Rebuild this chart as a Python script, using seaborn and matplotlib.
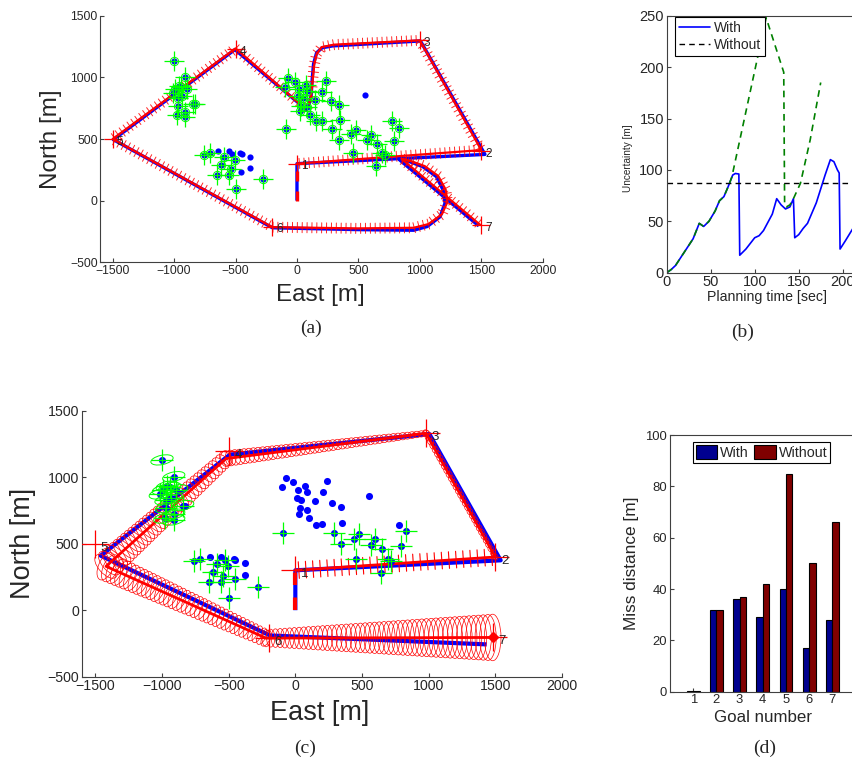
import numpy as np
import pandas as pd
import matplotlib
matplotlib.use("Agg")
import matplotlib.pyplot as plt
import matplotlib.patheffects as pe
from matplotlib.patches import Ellipse
import seaborn as sns

sns.set_style("ticks")
plt.rcParams['font.family'] = ['Liberation Sans', 'DejaVu Sans']
plt.rcParams['xtick.direction'] = 'in'
plt.rcParams['ytick.direction'] = 'in'

# ---- landmarks (true positions) ----
lm_x = [-1000, -912, -961, -990, -941, -892, -970, -967, -912, -979, -912, -845, -828, -1013, -932,
        -73, -99, -15, 20, 70, 84, 46, 12, 35, 26, 84, 102, 148, 206, 235, 273, 346, 157, 200, 288,
        351, 340, 439, 479, 555, 601, 566, 648, 642, 456, 694, 717, 775, 828, 790, -90,
        -712, -642, -555, -590, -526, -462, -450, -380, -505, -619, -540, -648, -555, -456, -380, -497, -279, -758]
lm_y = [1130, 1004, 933, 906, 923, 906, 830, 771, 722, 692, 678, 787, 787, 874, 847,
        993, 923, 966, 906, 934, 887, 830, 847, 771, 725, 757, 692, 820, 885, 969, 809, 779, 643, 649, 578,
        657, 494, 537, 570, 860, 532, 491, 461, 277, 385, 385, 372, 643, 592, 483, 581,
        385, 399, 399, 350, 377, 385, 380, 358, 331, 290, 258, 209, 209, 233, 263, 92, 176, 372]
seen_a = [1, 1, 1, 1, 1, 1, 1, 1, 1, 1, 1, 1, 1, 1, 1,
          1, 1, 1, 1, 1, 1, 1, 1, 1, 1, 1, 1, 1, 1, 1, 1, 1, 1, 1, 1,
          1, 1, 1, 1, 0, 1, 1, 1, 1, 1, 1, 1, 1, 1, 1, 1,
          1, 0, 0, 1, 0, 0, 0, 0, 1, 1, 1, 1, 1, 0, 0, 1, 1, 1]
seen_c = [1, 1, 1, 1, 1, 1, 1, 1, 1, 1, 1, 1, 0, 1, 1,
          0, 0, 0, 0, 0, 0, 0, 0, 0, 0, 0, 0, 0, 0, 0, 0, 0, 0, 0, 1,
          0, 1, 1, 1, 0, 1, 1, 1, 1, 1, 1, 1, 0, 1, 1, 1,
          1, 0, 0, 1, 1, 0, 0, 0, 1, 1, 1, 1, 1, 1, 0, 1, 1, 1]

# ---- panel (a): true (blue) and estimated (red) paths, goals ----
blue_a_x = [0, 0, 1530, 1005, 290, 205, 160, 135, 125, 115, 95, 75, -505, -1495, -200,
            500, 950, 1060, 1165, 1205, 1190, 1135, 1025, 920, 836, 1480]
blue_a_y = [0, 300, 375, 1295, 1255, 1240, 1200, 1110, 1000, 850, 775, 740, 1225, 495, -220,
            -235, -240, -210, -130, -20, 85, 195, 275, 315, 330, -205]
red_a_x = [0, 1500, 1000, 300, 200, 160, 140, 130, 115, 95, 75, -500, -1500, -200,
           490, 950, 1070, 1180, 1225, 1210, 1150, 1040, 930, 850, 1490]
red_a_y = [300, 410, 1300, 1265, 1245, 1190, 1100, 1000, 850, 775, 740, 1235, 500, -215,
           -225, -220, -190, -110, -10, 90, 200, 280, 320, 340, -195]
goal_a_x = [0, 1500, 1000, -500, -1500, -200, 1500]
goal_a_y = [300, 400, 1300, 1230, 500, -210, -200]

# ---- panel (c) ----
blue_c_x = [0, 0, 1540, 1005, -490, -1460, -190, 1435]
blue_c_y = [0, 300, 375, 1325, 1170, 410, -190, -257]
red_c_x = [0, 1500, 980, -520, -1420, -220, 1480]
red_c_y = [300, 400, 1330, 1140, 330, -210, -205]
band_c = [20, 40, 45, 120, 220, 130, 350]     # ellipse size across the path at each goal
along_c = [20, 45, 55, 80, 110, 60, 125]      # ellipse size along the path
goal_c_x = [0, 1500, 980, -500, -1500, -200, 1480]
goal_c_y = [300, 400, 1330, 1200, 500, -210, -205]

# ---- panel (b): uncertainty vs planning time ----
t_with = [0, 5, 10, 20, 30, 37, 42, 48, 55, 60, 65, 70, 75, 78, 82, 83, 90, 100, 105, 110, 120,
          125, 130, 135, 140, 144, 145.5, 150, 155, 160, 170, 180, 186, 190, 194, 196, 197, 203, 213, 220]
u_with = [0, 3, 7, 20, 33, 48, 45, 50, 60, 70, 74, 84, 95, 96.5, 96, 17, 23, 34, 36, 41, 57,
          72, 66, 62, 64, 72, 34, 37, 43, 48, 68, 95, 110, 108, 100, 97, 23, 31, 45, 58]
t_without = [0, 5, 10, 20, 30, 37, 42, 48, 55, 60, 65, 70, 74, 113, 133, 134, 136, 140, 144, 152, 163, 175]
u_without = [0, 3, 7, 20, 33, 48, 45, 50, 60, 70, 74, 84, 93, 248, 195, 66, 64, 66, 72, 87, 129, 185]
threshold = 87

# ---- panel (d): miss distance per goal ----
goals = [1, 2, 3, 4, 5, 6, 7]
miss_with = [0.4, 32, 36, 29, 40, 17, 28]
miss_without = [0.4, 32, 37, 42, 85, 50, 66]

W, H = 853, 764
fig = plt.figure(figsize=(W / 100, H / 100), dpi=100)
SPINE = '#404040'


def style_map_axes(ax, tick_size):
    ax.set_xlim(-1600, 2000)
    ax.set_ylim(-500, 1500)
    ax.set_xticks(range(-1500, 2001, 500))
    ax.set_yticks(range(-500, 1501, 500))
    for s in ['top', 'right']:
        ax.spines[s].set_visible(False)
    for s in ['left', 'bottom']:
        ax.spines[s].set_color(SPINE)
    ax.tick_params(labelsize=tick_size, length=3, pad=2, color=SPINE)
    ax.set_xticklabels([str(v).replace('-', '\u2212') for v in range(-1500, 2001, 500)])
    ax.set_yticklabels([str(v).replace('-', '\u2212') for v in range(-500, 1501, 500)])


def ellipse_chain(ax, xs, ys, band, along, step=35):
    for i in range(1, len(xs) - 1):
        x0, y0, x1, y1 = xs[i], ys[i], xs[i + 1], ys[i + 1]
        ang = np.degrees(np.arctan2(y1 - y0, x1 - x0))
        n = int(np.hypot(x1 - x0, y1 - y0) // step)
        for f in np.linspace(0, 1, n + 1):
            ax.add_patch(Ellipse((x0 + f * (x1 - x0), y0 + f * (y1 - y0)),
                                 along[i] + f * (along[i + 1] - along[i]),
                                 band[i] + f * (band[i + 1] - band[i]),
                                 angle=ang, fill=False, ec='red', lw=0.5, zorder=3))


# ================= (a) =================
ax = fig.add_axes([100.4 / W, 1 - 262.3 / H, 442.3 / W, 246.6 / H])
ticks = [pe.withTickedStroke(angle=90, spacing=3.5, length=1.05, linewidth=0.7, alpha=0.85),
         pe.TickedStroke(angle=-90, spacing=3.5, length=1.05, linewidth=0.7, alpha=0.85)]
ax.plot(blue_a_x, blue_a_y, color='blue', lw=2.4, solid_capstyle='butt', zorder=2)
ax.plot(blue_a_x[:2], blue_a_y[:2], color='red', lw=2.4, dashes=(3, 3), zorder=3)
ax.plot(red_a_x, red_a_y, color='red', lw=1.6, path_effects=ticks, zorder=3)
ax.plot(goal_a_x, goal_a_y, '+', color='red', ms=13, mew=0.9, ls='none', zorder=4)
for i, (gx, gy) in enumerate(zip(goal_a_x, goal_a_y)):
    ax.annotate(str(i + 1), (gx, gy), xytext=(3, -4), textcoords='offset points', fontsize=8.5, zorder=5)
sns.scatterplot(x=lm_x, y=lm_y, color='blue', s=20, linewidth=0, ax=ax, zorder=5)
sx = [x for x, s in zip(lm_x, seen_a) if s]
sy = [y for y, s in zip(lm_y, seen_a) if s]
ax.plot(sx, sy, '+', color='#00ff00', ms=14, mew=0.9, ls='none', zorder=6)
ax.plot(sx, sy, 'o', mfc='none', mec='#00ff00', ms=6, mew=0.7, ls='none', zorder=6)
style_map_axes(ax, 8.7)
ax.set_xlabel('East [m]', fontsize=17.5)
ax.set_ylabel('North [m]', fontsize=17.5)
ax.xaxis.set_label_coords(0.497, -0.087)
ax.yaxis.set_label_coords(-0.087, 0.5)

# ================= (c) =================
ax = fig.add_axes([82 / W, 1 - 676.7 / H, 480 / W, 266 / H])
ax.plot(blue_c_x, blue_c_y, color='blue', lw=3, solid_capstyle='butt', zorder=2)
ax.plot(blue_c_x[:2], blue_c_y[:2], color='red', lw=3, dashes=(3, 3), zorder=3)
ticks_c = [pe.withTickedStroke(angle=90, spacing=5, length=1.2, linewidth=0.8),
           pe.TickedStroke(angle=-90, spacing=5, length=1.2, linewidth=0.8)]
ax.plot(red_c_x[:2], red_c_y[:2], color='red', lw=2, path_effects=ticks_c, zorder=3)
ax.plot(red_c_x[1:], red_c_y[1:], color='red', lw=2, zorder=3)
ellipse_chain(ax, red_c_x, red_c_y, band_c, along_c)
ax.plot(red_c_x[-1:], red_c_y[-1:], 'D', color='red', ms=5, zorder=4)
ax.plot(goal_c_x, goal_c_y, '+', color='red', ms=20, mew=0.9, ls='none', zorder=4)
for i, (gx, gy) in enumerate(zip(goal_c_x, goal_c_y)):
    ax.annotate(str(i + 1), (gx, gy), xytext=(4, -5), textcoords='offset points', fontsize=9.5, zorder=5)
sns.scatterplot(x=lm_x, y=lm_y, color='blue', s=26, linewidth=0, ax=ax, zorder=5)
sx = [x for x, s in zip(lm_x, seen_c) if s]
sy = [y for y, s in zip(lm_y, seen_c) if s]
ax.plot(sx, sy, '+', color='#00ff00', ms=16, mew=0.9, ls='none', zorder=6)
for x, y in zip(sx, sy):
    if x < -800:
        ax.add_patch(Ellipse((x, y), 170, 70, angle=12, fill=False, ec='#00ff00', lw=0.7, zorder=6))
style_map_axes(ax, 10.2)
ax.set_xlabel('East [m]', fontsize=19.5)
ax.set_ylabel('North [m]', fontsize=19.5)
ax.xaxis.set_label_coords(0.496, -0.088)
ax.yaxis.set_label_coords(-0.096, 0.5)

# ================= (b) =================
ax = fig.add_axes([666.7 / W, 1 - 272.7 / H, 193.6 / W, 257 / H])
sns.lineplot(x=t_with, y=u_with, color='blue', lw=1.2, sort=False, estimator=None, label='With', ax=ax)
ax.axhline(threshold, color='black', lw=1, dashes=(4, 3), label='Without')
sns.lineplot(x=t_without, y=u_without, color='#008000', lw=1.2, sort=False, estimator=None,
             dashes=False, ax=ax).lines[-1].set_dashes((4, 3))
ax.set_xlim(0, 220)
ax.set_ylim(0, 250)
ax.set_xticks([0, 50, 100, 150, 200])
ax.set_yticks(range(0, 251, 50))
ax.spines['right'].set_visible(False)
for s in ['left', 'bottom', 'top']:
    ax.spines[s].set_color(SPINE)
ax.tick_params(labelsize=10.5, length=3, pad=2, color=SPINE)
ax.set_xlabel('Planning time [sec]', fontsize=10.2)
ax.set_ylabel('Uncertainty [m]', fontsize=7.2)
ax.xaxis.set_label_coords(0.517, -0.067)
ax.yaxis.set_label_coords(-0.174, 0.445)
leg = ax.legend(loc='upper left', bbox_to_anchor=(0.043, 0.996), fontsize=10, fancybox=False,
                edgecolor='black', framealpha=1, handlelength=2.2, handletextpad=0.3,
                borderpad=0.3, labelspacing=0.2, borderaxespad=0)
leg.get_frame().set_linewidth(0.8)

# ================= (d) =================
ax = fig.add_axes([670 / W, 1 - 691.7 / H, 185.6 / W, 256.7 / H])
df_d = pd.DataFrame({'Goal': goals * 2, 'Miss': miss_with + miss_without,
                     'Run': ['With'] * len(goals) + ['Without'] * len(goals)})
sns.barplot(data=df_d, x='Goal', y='Miss', hue='Run', palette=['#00008f', '#800000'],
            width=0.56, native_scale=True, edgecolor='black', linewidth=0.8, saturation=1, ax=ax)
ax.set_xlim(0, 8)
ax.set_ylim(0, 100)
ax.set_xticks(goals)
ax.set_yticks(range(0, 101, 20))
ax.spines['right'].set_visible(False)
for s in ['left', 'bottom', 'top']:
    ax.spines[s].set_color(SPINE)
ax.tick_params(labelsize=9.4, length=3, pad=2, color=SPINE)
ax.set_xlabel('Goal number', fontsize=12.2)
ax.set_ylabel('Miss distance [m]', fontsize=12.4)
ax.xaxis.set_label_coords(0.5, -0.071)
ax.yaxis.set_label_coords(-0.167, 0.501)
h, l = ax.get_legend_handles_labels()
leg = ax.legend(h, l, loc='upper left', bbox_to_anchor=(0.122, 0.972), ncol=2, fontsize=10.3,
                fancybox=False, edgecolor='black', framealpha=1, handlelength=1.5, handleheight=1.1,
                handletextpad=0.2, columnspacing=0.4, borderpad=0.2, borderaxespad=0)
leg.get_frame().set_linewidth(0.8)

# captions
for txt, x, y in [('(a)', 311, 328), ('(b)', 743, 332), ('(c)', 305, 748), ('(d)', 765, 748)]:
    fig.text(x / W, 1 - y / H, txt, ha='center', va='center', fontsize=14,
             family=['Liberation Serif', 'DejaVu Serif'])

fig.savefig('out.png', dpi=100)
